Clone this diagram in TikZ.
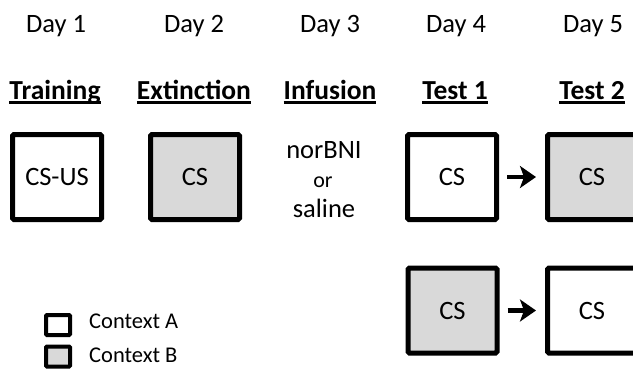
\documentclass[tikz,border=0pt]{standalone}
\usepackage{fontspec}
\setmainfont{Carlito}
\usetikzlibrary{arrows.meta}
\definecolor{ctxgray}{HTML}{D9D9D9}
\newcommand\myul[1]{\setbox0\hbox{#1}\rlap{\rule[-5pt]{\wd0}{3pt}}\box0}
\begin{document}
\begin{tikzpicture}[x=1pt,y=-1pt,
  box/.style={draw=black, line width=5pt, rounded corners=1.5pt, minimum width=89pt, minimum height=85pt, inner sep=0pt, font=\fontsize{26.5}{31}\selectfont},
  ctxA/.style={box, fill=white},
  ctxB/.style={box, fill=ctxgray},
  lbl/.style={font=\fontsize{26.5}{31}\selectfont, anchor=base, inner sep=0pt},
  head/.style={lbl, font=\fontsize{27.5}{32}\selectfont\bfseries},
  arr/.style={line width=4.5pt, -{Stealth[length=16pt,width=22pt,inset=4pt]}, shorten <=8pt, shorten >=9pt},
  leg/.style={draw=black, line width=4pt, rounded corners=1pt, minimum width=24pt, minimum height=20pt, inner sep=0pt},
  legtxt/.style={font=\fontsize{22.5}{27}\selectfont, anchor=base west, inner sep=0pt}]
\useasboundingbox (0,0) rectangle (633,370);
\clip (0,0) rectangle (633,370);
% day labels
\node[lbl] (d1) at (56,32) {Day 1};
\node[lbl] (d2) at (194,32) {Day 2};
\node[lbl] (d3) at (330,32) {Day 3};
\node[lbl] (d4) at (456,32) {Day 4};
\node[lbl] (d5) at (593,32) {Day 5};
% headings
\node[head] (h1) at (55,99) {\myul{Training}};
\node[head] (h2) at (194,99) {\myul{Extinction}};
\node[head] (h3) at (330,99) {\myul{Infusion}};
\node[head] (h4) at (455,99) {\myul{Test 1}};
\node[head] (h5) at (592,99) {\myul{Test 2}};
% boxes
\node[ctxA] (b1) at (57,177) {CS-US};
\node[ctxB] (b2) at (195,177) {CS};
\node[lbl] (inf1) at (324,158) {norBNI};
\node[lbl, font=\fontsize{22}{26}\selectfont] (inf2) at (323,187) {or};
\node[lbl] (inf3) at (324,217) {saline};
\node[ctxA] (t1) at (452,177) {CS};
\node[ctxB] (t2) at (592,177) {CS};
\node[ctxB] (u1) at (452.5,310.5) {CS};
\node[ctxA] (u2) at (592,310.5) {CS};
\draw[arr] (t1) -- (t2);
\draw[arr] (u1) -- (u2);
% legend
\node[leg, fill=white] (la) at (58,325) {};
\node[leg, fill=ctxgray] (lb) at (58,356.5) {};
\node[legtxt] (lta) at (89,328) {Context A};
\node[legtxt] (ltb) at (89,362) {Context B};
\end{tikzpicture}
\end{document}
